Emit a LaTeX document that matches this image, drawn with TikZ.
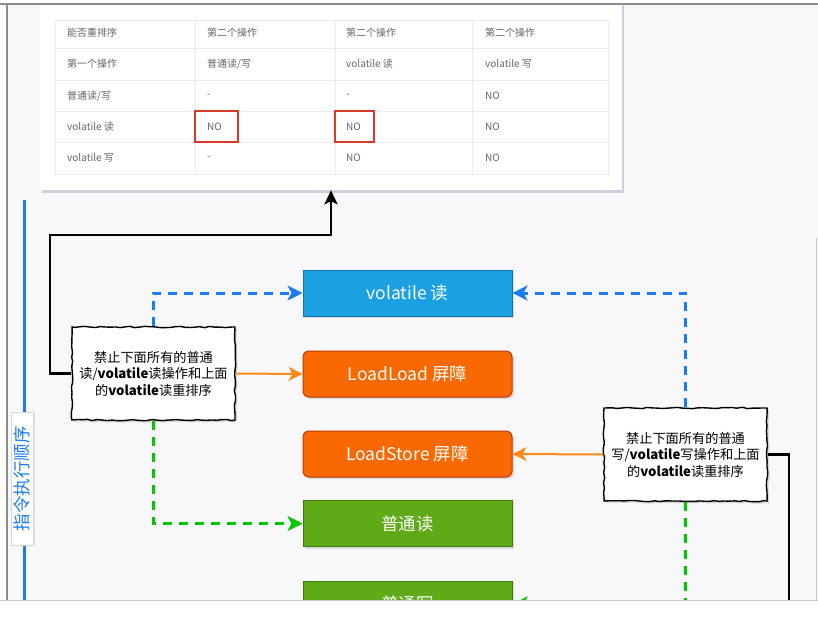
\documentclass[tikz,border=0pt]{standalone}
\usepackage{fontspec}
\newfontfamily\cjk{Noto Sans CJK SC}
\usetikzlibrary{arrows.meta, positioning, shadows, decorations.pathmorphing}

\definecolor{pagebg}{HTML}{F8F8FA}
\definecolor{framegray}{HTML}{8C8C8C}
\definecolor{gridgray}{HTML}{ECECEC}
\definecolor{txtgray}{HTML}{666666}
\definecolor{markred}{HTML}{D9392B}
\definecolor{volblue}{HTML}{1BA1E2}
\definecolor{volblueline}{HTML}{0E74B5}
\definecolor{barorange}{HTML}{FA6800}
\definecolor{barorangeline}{HTML}{C73500}
\definecolor{plaingreen}{HTML}{60A917}
\definecolor{plaingreenline}{HTML}{3D7A12}
\definecolor{dashblue}{HTML}{1A7CF5}
\definecolor{dashgreen}{HTML}{00C800}
\definecolor{lineorange}{HTML}{FF8A1A}
\definecolor{axisblue}{HTML}{1A7CF5}
\definecolor{cardshade}{HTML}{9AA0C0}

\begin{document}
\begin{tikzpicture}[x=1pt,y=-1pt,font=\cjk,
  cell/.style={anchor=west,inner sep=0pt,text=txtgray,font=\cjk\fontsize{10}{12}\selectfont},
  markbox/.style={draw=markred,line width=1.6pt,minimum width=#1,minimum height=31pt,inner sep=0pt},
  opbox/.style={line width=1pt,minimum width=209pt,minimum height=46pt,text=white,font=\cjk\fontsize{17.5}{19}\selectfont,drop shadow={shadow xshift=2pt,shadow yshift=-2pt,opacity=.25}},
  readbox/.style={opbox,fill=volblue,draw=volblueline},
  barbox/.style={opbox,fill=barorange,draw=barorangeline,rounded corners=6pt},
  plainbox/.style={opbox,fill=plaingreen,draw=plaingreenline},
  note/.style={draw,fill=white,line width=1.4pt,minimum width=163pt,minimum height=93pt,text width=158pt,align=center,inner sep=2pt,font=\cjk\fontsize{13.2}{16.5}\selectfont,decorate,decoration={random steps,segment length=5pt,amplitude=.7pt},drop shadow={shadow xshift=2pt,shadow yshift=-2pt,opacity=.3}},
  arrow/.style={line width=2.8pt,-{Stealth[length=14pt,width=13pt,inset=3pt]}},
  dasharrow/.style={line width=3pt,dash pattern=on 9pt off 7pt,-{Stealth[length=15pt,width=15pt,inset=4pt]}},
  barline/.style={line width=2pt,lineorange,-{Stealth[length=14pt,width=14pt,inset=4pt]}}]
\useasboundingbox (0,0) rectangle (818,620);
\fill[white] (0,0) rectangle (818,620);
\fill[pagebg] (7,4) rectangle (818,600);

\begin{scope}
\clip (7,4) rectangle (818,600);
% the table card
\node[fill=white,minimum width=582pt,minimum height=206pt,inner sep=0pt,drop shadow={shadow xshift=1.5pt,shadow yshift=-3pt,opacity=.45,fill=cardshade}] (card) at (331,87) {};
\node[fill=white,draw=gridgray,minimum width=553pt,minimum height=154pt,inner sep=0pt,drop shadow={shadow xshift=0pt,shadow yshift=-1pt,opacity=.12}] (tbl) at (331.5,97) {};
\foreach \yy in {48,80,111,142} \draw[gridgray,line width=.8pt] (55,\yy) -- (608,\yy);
\foreach \xx in {195,335,472} \draw[gridgray,line width=.6pt] (\xx,20) -- (\xx,174);
\foreach \yy/\a/\b/\c/\d [count=\r] in {33/能否重排序/第二个操作/第二个操作/第二个操作,
    64/第一个操作/普通读\slash 写/volatile 读/volatile 写,
    96/普通读\slash 写/-/-/NO,
    127/volatile 读/NO/NO/NO,
    158/volatile 写/-/NO/NO}{
  \node[cell] (c\r-1) at (67,\yy) {\a};
  \node[cell] (c\r-2) at (207,\yy) {\b};
  \node[cell] (c\r-3) at (346,\yy) {\c};
  \node[cell] (c\r-4) at (485,\yy) {\d};
}
\node[markbox=43pt] (mark1) at (216.5,126.5) {};
\node[markbox=39pt] (mark2) at (354.5,126.5) {};

% execution order axis
\coordinate (axtop) at (24,200);
\coordinate (axbot) at (24,610);
\draw[axisblue,line width=3pt] (axtop) -- (axbot);
\node[rotate=90,fill=white,draw=white!85!black,line width=.4pt,text=axisblue,minimum width=133pt,minimum height=22pt,inner sep=1pt,font=\cjk\fontsize{17.5}{18}\selectfont,drop shadow={shadow xshift=1.5pt,shadow yshift=-1pt,opacity=.2}] (order) at (22,478.5) {指令执行顺序};

% operations
\node[readbox] (vread) at (407.5,293) {volatile 读};
\node[barbox] (llbar) at (407.5,374) {LoadLoad 屏障};
\node[barbox] (lsbar) at (407.5,454) {LoadStore 屏障};
\node[plainbox] (nread) at (407.5,523.5) {普通读};
\node[plainbox] (nwrite) at (407.5,604) {普通写};

% notes
\node[note] (lnote) at (153.5,373.5) {禁止下面所有的普通\\读/\textbf{volatile}读操作和上面\\的\textbf{volatile}读重排序};
\node[note] (rnote) at (685.5,454.5) {禁止下面所有的普通\\写/\textbf{volatile}写操作和上面\\的\textbf{volatile}读重排序};

\coordinate (lbend) at (50,235);
\coordinate (rdrop) at (789,620);

\draw[arrow] (lnote.west) -| (lbend) -| (card.south);
\draw[dasharrow,dashblue] (lnote.north) |- (vread.west);
\draw[dasharrow,dashgreen] (lnote.south) |- (nread.west);
\draw[barline] (lnote.east) -- (llbar.west);
\draw[dasharrow,dashblue] (rnote.north) |- (vread.east);
\draw[barline] (rnote.west) -- (lsbar.east);
\draw[dasharrow,dashgreen] (rnote.south) |- (nwrite.east);
\draw[line width=2.8pt] (rnote.east) -| (rdrop);
\end{scope}

% screenshot frame
\draw[framegray,line width=1.5pt] (0,4) -- (818,4);
\draw[framegray,line width=1.2pt] (7,4) -- (7,600);
\draw[white!80!black,line width=.8pt] (816,238) -- (816,600);
\draw[white!80!black,line width=1pt] (0,600.5) -- (818,600.5);
\end{tikzpicture}
\end{document}
